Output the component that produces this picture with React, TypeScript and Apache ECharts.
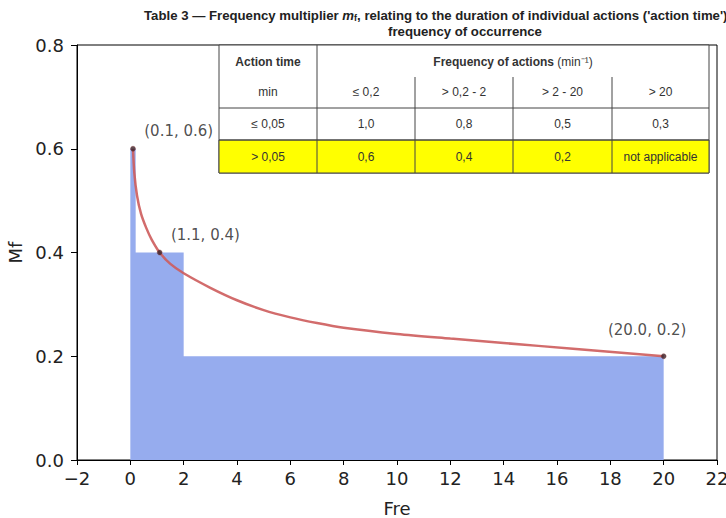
import React, { useEffect, useRef } from "react";
import * as echarts from "echarts";

// ---- data ----
const stepX = [0, 0.2, 2, 20];
const stepY = [0.6, 0.4, 0.2, 0.2];

const curveX = [0.1, 0.15, 0.25, 0.4, 0.6, 0.8, 1.1, 1.5, 2, 3, 4, 5, 6, 7, 8, 10, 12, 14, 16.6, 20];
const curveY = [0.6, 0.553, 0.51, 0.475, 0.447, 0.425, 0.4, 0.378, 0.36, 0.332, 0.308, 0.289, 0.275, 0.264, 0.255, 0.243, 0.234, 0.2255, 0.2145, 0.2];

const pointX = [0.1, 1.1, 20];
const pointY = [0.6, 0.4, 0.2];

const titleLine1 = "Table 3 \u2014 Frequency multiplier ";
const titleLine1b = ", relating to the duration of individual actions ('action time')";
const titleLine2 = "frequency of occurrence";

const tableHeadLeft = "Action time";
const tableHeadRight = "Frequency of actions";
const tableHeadUnit = "(min\u207B\u00B9)";
const tableSubLeft = "min";
const freqRanges = ["\u2264 0,2", "> 0,2 - 2", "> 2 - 20", "> 20"];
const rowLabels = ["\u2264 0,05", "> 0,05"];
const rowValues = [
  ["1,0", "0,8", "0,5", "0,3"],
  ["0,6", "0,4", "0,2", "not applicable"],
];

export default function App() {
  const ref = useRef<HTMLDivElement>(null);
  useEffect(() => {
    const chart = echarts.init(ref.current!, null, { renderer: "svg" });

    // table layout
    const colX = [219, 317, 415, 513, 612, 709];
    const tFont = "Liberation Sans, Arial, sans-serif";
    const tColor = "#333";
    const lineColor = "#444";
    const els: any[] = [];
    els.push({ type: "rect", shape: { x: colX[0], y: 45, width: colX[5] - colX[0], height: 128 }, style: { fill: "#fff", stroke: lineColor, lineWidth: 1 }, z: 100 });
    els.push({ type: "rect", shape: { x: colX[0], y: 140, width: colX[5] - colX[0], height: 33 }, style: { fill: "#ffff00", stroke: lineColor, lineWidth: 1 }, z: 101 });
    [108, 140].forEach((y) => els.push({ type: "line", shape: { x1: colX[0], y1: y, x2: colX[5], y2: y }, style: { stroke: lineColor, lineWidth: 1 }, z: 102 }));
    els.push({ type: "line", shape: { x1: colX[1], y1: 45, x2: colX[1], y2: 173 }, style: { stroke: lineColor, lineWidth: 1 }, z: 102 });
    [2, 3, 4].forEach((i) => els.push({ type: "line", shape: { x1: colX[i], y1: 77, x2: colX[i], y2: 173 }, style: { stroke: lineColor, lineWidth: 1 }, z: 102 }));
    const mid = (i: number) => (colX[i] + colX[i + 1]) / 2;
    els.push({ type: "text", x: mid(0), y: 62, style: { text: tableHeadLeft, font: `bold 12px ${tFont}`, fill: tColor, align: "center", verticalAlign: "middle" }, z: 103 });
    els.push({
      type: "text", x: (colX[1] + colX[5]) / 2, y: 62,
      style: {
        text: `{b|${tableHeadRight}} {r|${tableHeadUnit}}`, align: "center", verticalAlign: "middle",
        rich: { b: { font: `bold 12px ${tFont}`, fill: tColor }, r: { font: `12px ${tFont}`, fill: tColor } },
      }, z: 103,
    });
    els.push({ type: "text", x: mid(0), y: 92, style: { text: tableSubLeft, font: `12px ${tFont}`, fill: tColor, align: "center", verticalAlign: "middle" }, z: 103 });
    freqRanges.forEach((t, i) => els.push({ type: "text", x: mid(i + 1), y: 92, style: { text: t, font: `12px ${tFont}`, fill: tColor, align: "center", verticalAlign: "middle" }, z: 103 }));
    const rowCY = [124, 157];
    rowLabels.forEach((t, r) => {
      els.push({ type: "text", x: mid(0), y: rowCY[r], style: { text: t, font: `12px ${tFont}`, fill: tColor, align: "center", verticalAlign: "middle" }, z: 103 });
      rowValues[r].forEach((v, i) => els.push({ type: "text", x: mid(i + 1), y: rowCY[r], style: { text: v, font: `12px ${tFont}`, fill: tColor, align: "center", verticalAlign: "middle" }, z: 103 }));
    });
    // title
    els.push({
      type: "text", x: 144, y: 15,
      style: {
        text: `{b|${titleLine1}}{i|m}{s|f}{b|${titleLine1b}}`, align: "left", verticalAlign: "middle",
        rich: {
          b: { font: `bold 13.2px ${tFont}`, fill: "#222" },
          i: { font: `italic bold 13.2px ${tFont}`, fill: "#222" },
          s: { font: `bold 9px ${tFont}`, fill: "#222", padding: [5, 0, 0, 0] },
        },
      }, z: 103,
    });
    els.push({ type: "text", x: 465, y: 31, style: { text: titleLine2, font: `bold 13.2px ${tFont}`, fill: "#222", align: "center", verticalAlign: "middle" }, z: 103 });

    const labelPos = [[14, -15], [14, -15], [-53, -24]];

    chart.setOption({
      animation: false,
      grid: {
        left: 77, right: 9, top: 45, bottom: 58, containLabel: false, outerBoundsMode: "none",
        show: true, borderColor: "#000", borderWidth: 1, backgroundColor: "transparent",
      },
      xAxis: {
        type: "value", min: -2, max: 22, interval: 2,
        name: "Fre", nameLocation: "middle", nameGap: 39,
        nameTextStyle: { fontFamily: "DejaVu Sans", fontSize: 18, color: "#222" },
        axisLine: { show: true, onZero: false, lineStyle: { color: "#000", width: 1 } },
        axisTick: { show: true, inside: false, length: 5, lineStyle: { color: "#000" } },
        axisLabel: { fontFamily: "DejaVu Sans", fontSize: 18, color: "#222", margin: 9, formatter: (v: number) => (v < 0 ? "\u2212" + Math.abs(v) : String(v)) },
        splitLine: { show: false },
      },
      yAxis: {
        type: "value", min: 0, max: 0.8, interval: 0.2,
        name: "Mf", nameLocation: "middle", nameGap: 50,
        nameTextStyle: { fontFamily: "DejaVu Sans", fontSize: 18, color: "#222" },
        axisLine: { show: true, onZero: false, lineStyle: { color: "#000", width: 1 } },
        axisTick: { show: true, inside: false, length: 6, lineStyle: { color: "#000" } },
        axisLabel: { fontFamily: "DejaVu Sans", fontSize: 18, color: "#222", margin: 13, formatter: (v: number) => v.toFixed(1) },
        splitLine: { show: false },
      },
      series: [
        {
          type: "line", step: "end", data: stepX.map((x, i) => [x, stepY[i]]),
          symbol: "none", lineStyle: { width: 0 }, areaStyle: { color: "#96acee", opacity: 1 }, z: 1,
        },
        {
          type: "line", smooth: 0.3, data: curveX.map((x, i) => [x, curveY[i]]),
          symbol: "none", lineStyle: { color: "#cd5c5c", width: 2.5, opacity: 0.9 }, z: 2,
        },
        {
          type: "scatter", symbolSize: 5, z: 3,
          itemStyle: { color: "#3a2228", borderColor: "#8a3a3a", borderWidth: 0.5 },
          data: pointX.map((x, i) => ({
            value: [x, pointY[i]],
            label: {
              show: true, position: labelPos[i], align: "left", verticalAlign: "middle",
              fontFamily: "DejaVu Sans", fontSize: 15, color: "#222",
              formatter: `(${x.toFixed(1)}, ${pointY[i].toFixed(1)})`,
            },
          })),
        },
      ],
      graphic: { elements: els },
    });
    return () => chart.dispose();
  }, []);
  return <div ref={ref} style={{ position: "fixed", left: 0, top: 0, width: 726, height: 518, background: "#fff" }} />;
}
